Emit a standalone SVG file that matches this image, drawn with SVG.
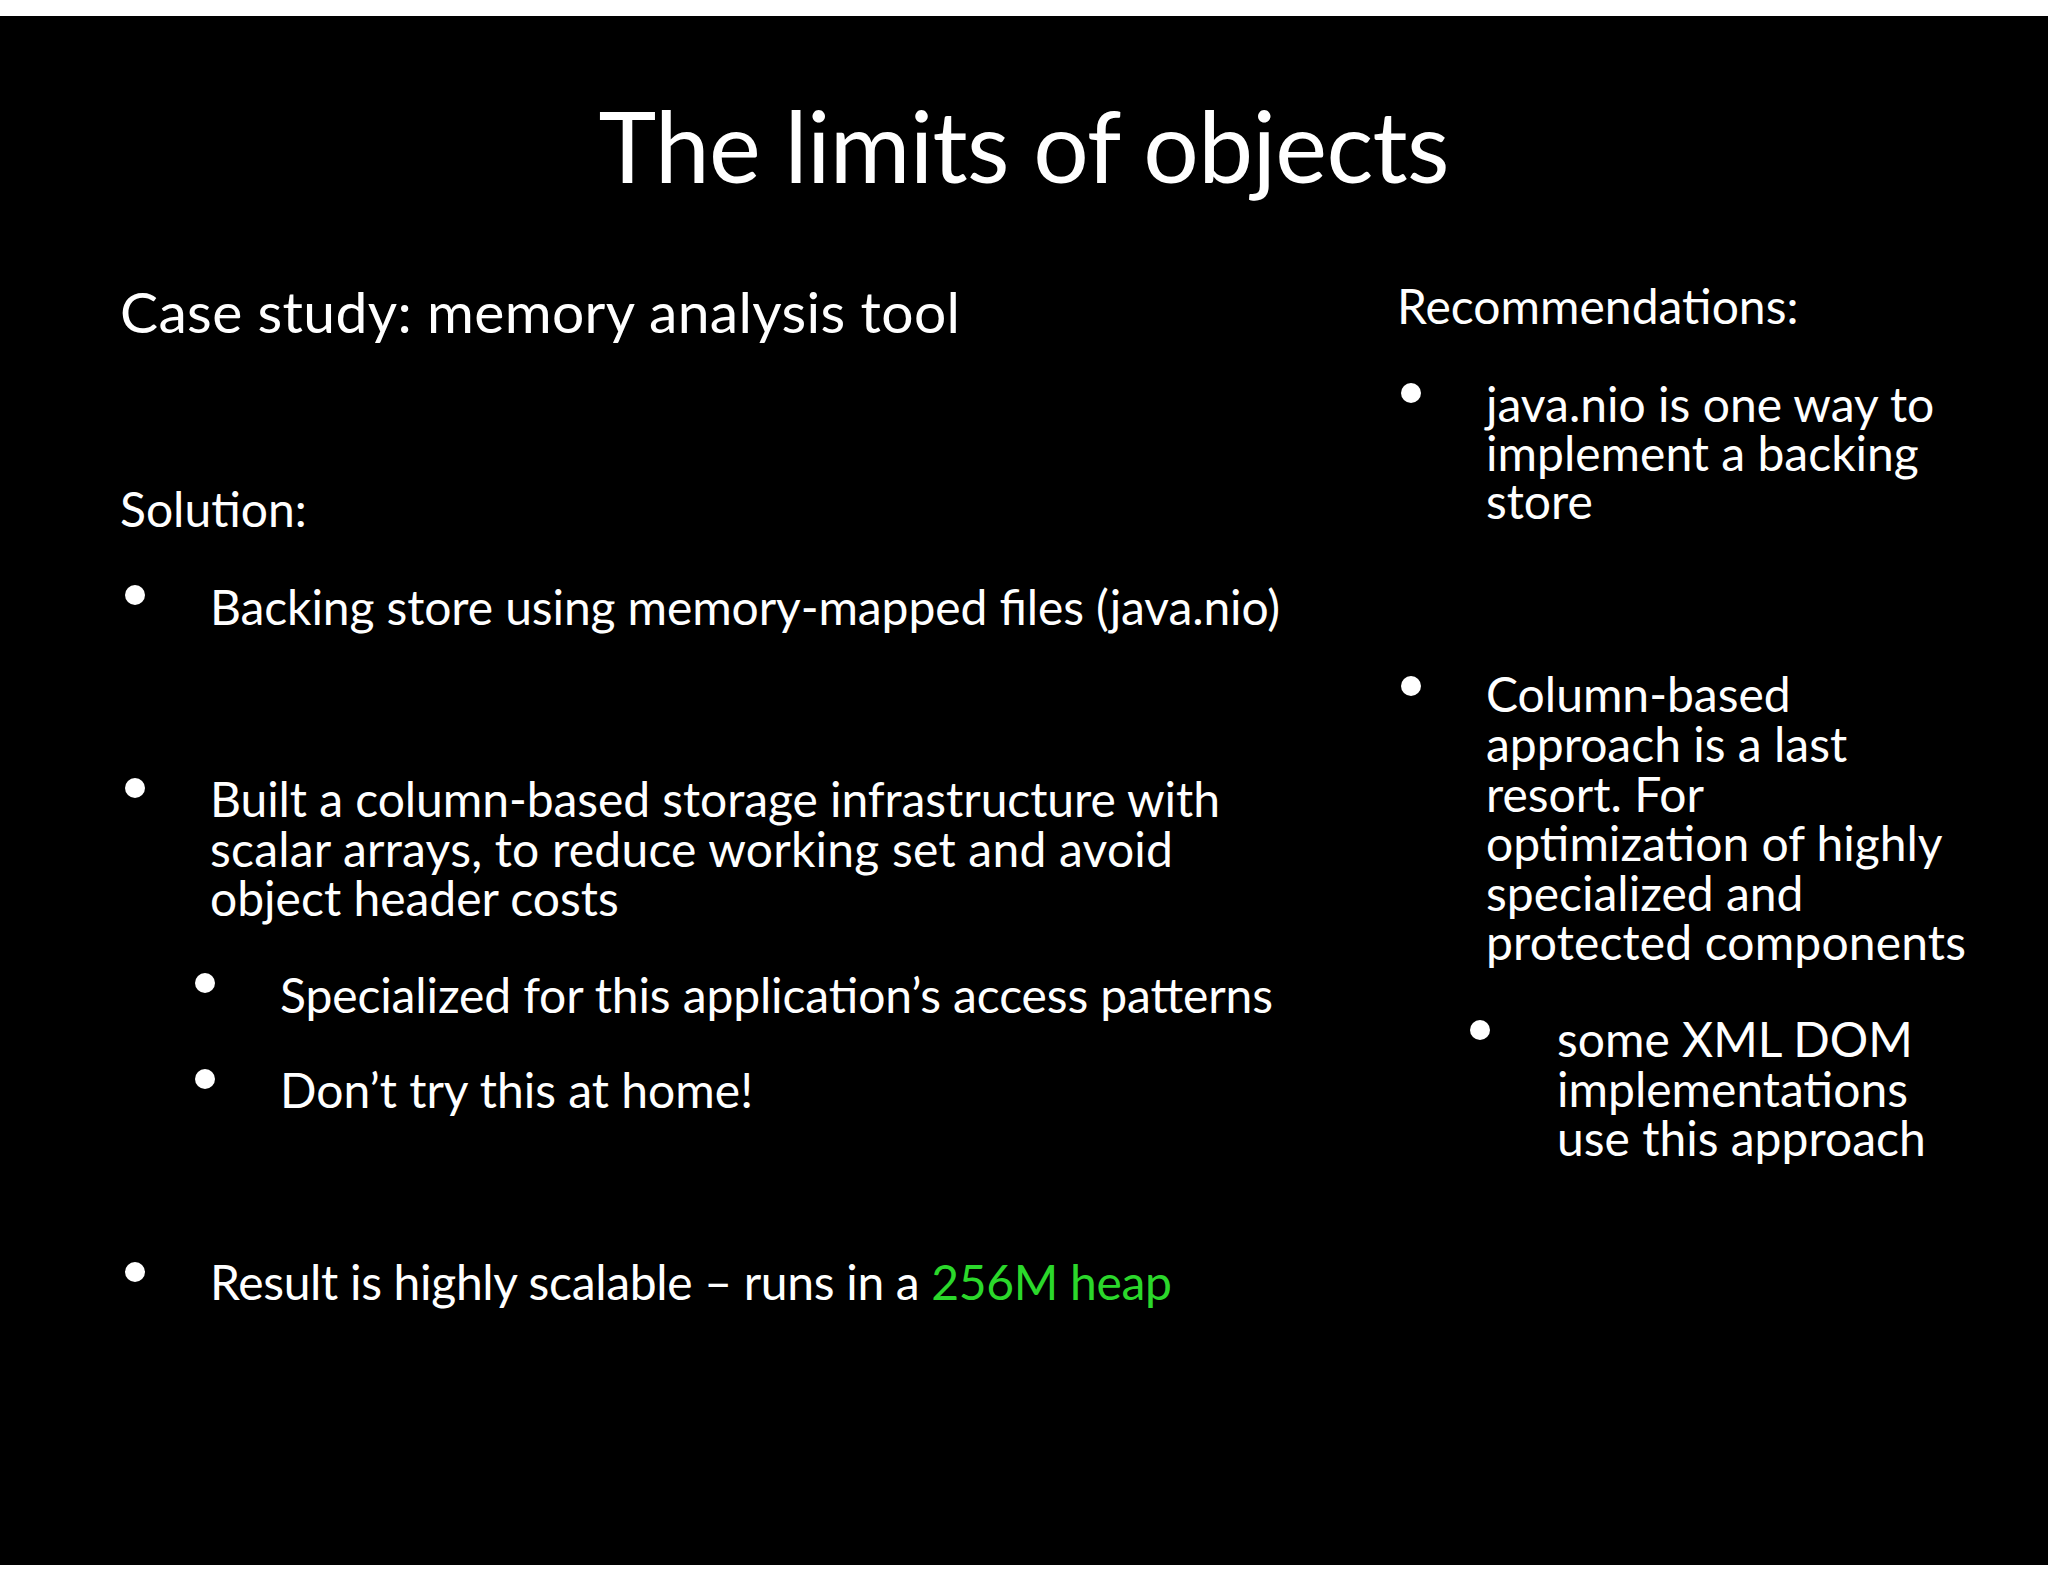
<svg xmlns="http://www.w3.org/2000/svg" width="2048" height="1582" viewBox="0 0 2048 1582">
<style>
text{font-family:Lato,"Open Sans",sans-serif;fill:#fff;font-size:48px}
.t{font-size:98px}
.h{font-size:57px}
circle{fill:#fff}
</style>
<rect width="2048" height="1582" fill="#fff"/>
<rect x="0" y="16" width="2048" height="1549" fill="#000"/>
<g id="title"><text class="t" x="1024" y="183" text-anchor="middle" textLength="851">The limits of objects</text></g>
<g id="left">
<text class="h" x="120" y="333" textLength="840">Case study: memory analysis tool</text>
<text x="120" y="527">Solution:</text>
<circle cx="135" cy="595" r="10"/>
<text x="210" y="625" textLength="1070">Backing store using memory-mapped files (java.nio)</text>
<circle cx="135" cy="788" r="10"/>
<text x="210" y="817" textLength="1010">Built a column-based storage infrastructure with</text>
<text x="210" y="867" textLength="963">scalar arrays, to reduce working set and avoid</text>
<text x="210" y="916">object header costs</text>
<circle cx="205" cy="983" r="10"/>
<text x="280" y="1013" textLength="993">Specialized for this application’s access patterns</text>
<circle cx="205" cy="1079" r="10"/>
<text x="280" y="1108">Don’t try this at home!</text>
<circle cx="135" cy="1272" r="10"/>
<text x="210" y="1300" textLength="962">Result is highly scalable – runs in a <tspan fill="#2bd82b" style="fill:#2bd82b">256M heap</tspan></text>
</g>
<g id="right">
<text x="1397" y="324">Recommendations:</text>
<circle cx="1411" cy="393" r="10"/>
<text x="1486" y="422">java.nio is one way to</text>
<text x="1486" y="471">implement a backing</text>
<text x="1486" y="519">store</text>
<circle cx="1411" cy="686" r="10"/>
<text x="1486" y="712">Column-based</text>
<text x="1486" y="762">approach is a last</text>
<text x="1486" y="812">resort.  For</text>
<text x="1486" y="861">optimization of highly</text>
<text x="1486" y="911">specialized and</text>
<text x="1486" y="960" textLength="480">protected components</text>
<circle cx="1480" cy="1030" r="10"/>
<text x="1557" y="1057">some XML DOM</text>
<text x="1557" y="1107">implementations</text>
<text x="1557" y="1156">use this approach</text>
</g>
</svg>
